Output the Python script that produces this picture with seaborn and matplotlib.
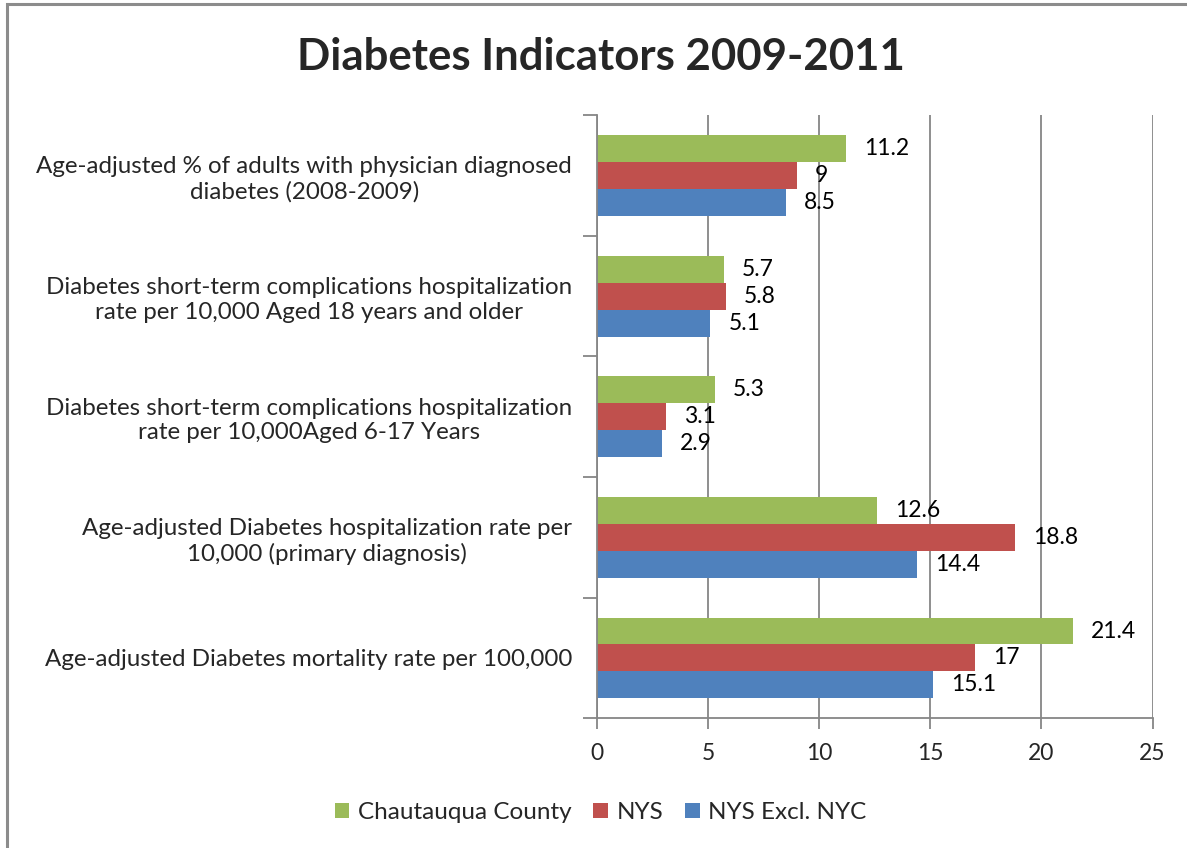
import matplotlib
matplotlib.use("Agg")
import matplotlib.pyplot as plt
import seaborn as sns
import pandas as pd
from matplotlib.patches import Rectangle, Patch

categories = [
    "Age-adjusted % of adults with physician diagnosed\ndiabetes (2008-2009)",
    "Diabetes short-term complications hospitalization\nrate per 10,000 Aged 18 years and older",
    "Diabetes short-term complications hospitalization\nrate per 10,000Aged 6-17 Years",
    "Age-adjusted Diabetes hospitalization rate per\n10,000 (primary diagnosis)",
    "Age-adjusted Diabetes mortality rate per 100,000",
]
series_names = ["Chautauqua County", "NYS", "NYS Excl. NYC"]
chautauqua = [11.2, 5.7, 5.3, 12.6, 21.4]
nys = [9, 5.8, 3.1, 18.8, 17]
nys_excl_nyc = [8.5, 5.1, 2.9, 14.4, 15.1]
x_ticks = [0, 5, 10, 15, 20, 25]

colors = ["#9BBB59", "#C0504D", "#4F81BD"]

rows = []
for name, vals in zip(series_names, [chautauqua, nys, nys_excl_nyc]):
    for cat, v in zip(categories, vals):
        rows.append({"Indicator": cat, "Series": name, "Value": v})
df = pd.DataFrame(rows)

sns.set_theme(style="white")
plt.rcParams["font.family"] = ["Lato", "DejaVu Sans"]

fig = plt.figure(figsize=(11.87, 8.48), dpi=100)
ax = fig.add_axes([0.503, 0.153, 0.468, 0.711])

sns.barplot(data=df, y="Indicator", x="Value", hue="Series",
            order=categories, hue_order=series_names, palette=colors,
            orient="h", width=0.67, saturation=1, ax=ax, legend=False,
            edgecolor="none")

# value labels at the end of each bar
for container, vals in zip(ax.containers, [chautauqua, nys, nys_excl_nyc]):
    labels = [f"{v:g}" for v in vals]
    ax.bar_label(container, labels=labels, padding=13, fontsize=16.5, color="black")

ax.set_xlim(0, 25)
ax.set_xticks(x_ticks)
ax.set_xticklabels([str(t) for t in x_ticks], fontsize=16.5)
ax.set_xlabel("")
ax.set_ylabel("")
ax.xaxis.grid(True, color="#868686", linewidth=1.3)
ax.set_axisbelow(True)

# category boundary ticks on the y axis
n = len(categories)
ax.set_ylim(n - 0.5, -0.5)
ax.set_yticks([i for i in range(n)])
ax.set_yticklabels(categories, fontsize=17.4, multialignment="center")
ax.tick_params(axis="y", which="major", left=False, length=0, pad=18)
ax.set_yticks([i - 0.5 for i in range(n + 1)], minor=True)
ax.tick_params(axis="y", which="minor", left=True, length=10, width=1.3,
               color="#868686", direction="out")
ax.tick_params(axis="x", which="major", bottom=True, length=8, width=1.3,
               color="#868686", direction="out", pad=10)

for side in ["top", "right"]:
    ax.spines[side].set_visible(False)
for side in ["left", "bottom"]:
    ax.spines[side].set_color("#868686")
    ax.spines[side].set_linewidth(1.3)

fig.text(0.506, 0.933, "Diabetes Indicators 2009-2011", ha="center", va="center",
         fontsize=31.5, fontweight="bold")

handles = [Patch(facecolor=c, edgecolor="none") for c in colors]
fig.legend(handles, series_names, loc="center", bbox_to_anchor=(0.506, 0.042),
           ncol=3, frameon=False, fontsize=17.5, handlelength=0.6, handleheight=0.6,
           columnspacing=0.9, handletextpad=0.35)

# outer chart frame
fig.patches.append(Rectangle((0.006, -0.01), 1.1, 1.005, transform=fig.transFigure,
                             fill=False, edgecolor="#8c8c8c", linewidth=2.2))

fig.savefig("out.png", dpi=100, facecolor="white")
